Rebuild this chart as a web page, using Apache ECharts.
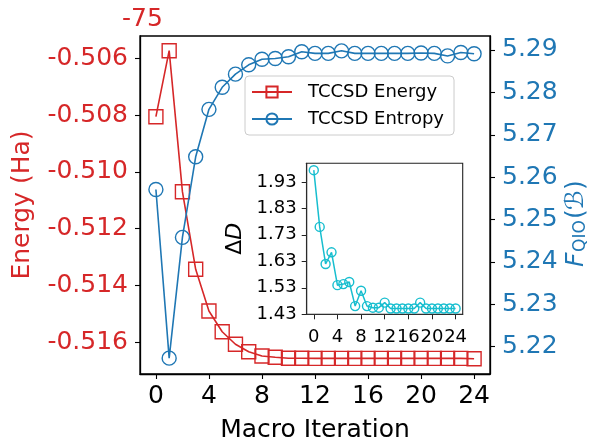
<!DOCTYPE html>
<html>
<head>
<meta charset="utf-8">
<script src="https://cdn.jsdelivr.net/npm/echarts@6/dist/echarts.min.js"></script>
<style>
  html, body { margin: 0; padding: 0; background: #fff; }
  #chart { width: 592px; height: 441px; }
</style>
</head>
<body>
<div id="chart"></div>
<script>
// 数据（能量已减去偏移 -75）
var iterations = [0, 1, 2, 3, 4, 5, 6, 7, 8, 9, 10, 11, 12, 13, 14, 15, 16, 17, 18, 19, 20, 21, 22, 23, 24];
var energy = [-0.508056, -0.505732, -0.510697, -0.513430, -0.514898, -0.515627, -0.516070, -0.516331,
	-0.516482, -0.516528, -0.516560, -0.516563, -0.516565, -0.516565, -0.516565, -0.516565, -0.516565,
	-0.516565, -0.516565, -0.516565, -0.516565, -0.516565, -0.516565, -0.516565, -0.516580];
var entropy = [5.2571, 5.2173, 5.2458, 5.2648, 5.2760, 5.2812, 5.2843, 5.2865, 5.2878, 5.2880,
	5.2884, 5.2896, 5.2892, 5.2892, 5.2898, 5.2892, 5.2892, 5.2892, 5.2892, 5.2892, 5.2893,
	5.2892, 5.2886, 5.2894, 5.2891];
var deltaD = [1.974, 1.760, 1.620, 1.664, 1.540, 1.544, 1.552, 1.461, 1.519, 1.461, 1.455, 1.455,
	1.474, 1.452, 1.452, 1.452, 1.452, 1.452, 1.474, 1.452, 1.452, 1.452, 1.452, 1.452, 1.452];

// 刻度
var xticks = [0, 4, 8, 12, 16, 20, 24];
var energyticks = [-0.516, -0.514, -0.512, -0.510, -0.508, -0.506];
var entropyticks = [5.22, 5.23, 5.24, 5.25, 5.26, 5.27, 5.28, 5.29];
var insetyticks = [1.43, 1.53, 1.63, 1.73, 1.83, 1.93];

var red = '#d62728';
var blue = '#1f77b4';
var cyan = '#17becf';
var font = 'DejaVu Sans';

var pairs = function(ys){
	return ys.map(function(y, i){ return [iterations[i], y]; });
};

var chart = echarts.init(document.getElementById('chart'));

var option = {
	animation: false,
	backgroundColor: '#fff',
	textStyle: { fontFamily: font },
	grid: [
		{ left: 140, top: 36, width: 350, height: 338, outerBoundsMode: 'none', containLabel: false,
			show: true, borderColor: '#000', borderWidth: 1.3, backgroundColor: 'transparent' },
		{ left: 306.7, top: 163.3, width: 156, height: 151, outerBoundsMode: 'none', containLabel: false,
			show: true, borderColor: '#222', borderWidth: 1.1, backgroundColor: '#fff', z: 5 }
	],
	legend: {
		orient: 'vertical',
		left: 245, top: 76,
		padding: [7, 10, 7, 6],
		itemWidth: 40, itemHeight: 14, itemGap: 9,
		backgroundColor: 'rgba(255,255,255,0.8)',
		borderColor: '#cccccc', borderWidth: 1, borderRadius: 4,
		textStyle: { fontFamily: font, fontSize: 18, color: '#000', padding: [0, 0, 0, 11] },
		data: ['TCCSD Energy', 'TCCSD Entropy']
	},
	xAxis: [
		{
			type: 'value', gridIndex: 0, min: -1.2, max: 25.2,
			name: 'Macro Iteration', nameLocation: 'middle', nameGap: 44,
			nameTextStyle: { fontFamily: font, fontSize: 25, color: '#000' },
			axisLine: { show: true, onZero: false, lineStyle: { color: '#000', width: 1.3 } },
			axisTick: { show: true, length: 5, lineStyle: { color: '#000', width: 1.1 }, customValues: xticks },
			axisLabel: { fontFamily: font, fontSize: 25, color: '#000', margin: 10, customValues: xticks },
			splitLine: { show: false }
		},
		{
			type: 'value', gridIndex: 1, min: -1.2, max: 25.2,
			axisLine: { show: true, onZero: false, lineStyle: { color: '#222', width: 1.1 } },
			axisTick: { show: true, length: 5, lineStyle: { color: '#222', width: 1 }, customValues: xticks },
			axisLabel: { fontFamily: font, fontSize: 18, color: '#000', margin: 14, customValues: xticks },
			splitLine: { show: false }
		}
	],
	yAxis: [
		{
			type: 'value', gridIndex: 0, position: 'left', min: -0.517116, max: -0.505215,
			name: 'Energy (Ha)', nameLocation: 'middle', nameGap: 105, nameRotate: 90,
			nameTextStyle: { fontFamily: font, fontSize: 25, color: red },
			axisLine: { show: true, onZero: false, lineStyle: { color: '#000', width: 1.3 } },
			axisTick: { show: true, length: 5, lineStyle: { color: '#000', width: 1.1 }, customValues: energyticks },
			axisLabel: { fontFamily: font, fontSize: 25, color: red, margin: 12, customValues: energyticks,
				formatter: function(v){ return v.toFixed(3); } },
			splitLine: { show: false }
		},
		{
			type: 'value', gridIndex: 0, position: 'right', min: 5.21356, max: 5.2933,
			axisLine: { show: true, onZero: false, lineStyle: { color: '#000', width: 1.3 } },
			axisTick: { show: true, length: 5, lineStyle: { color: '#000', width: 1.1 }, customValues: entropyticks },
			axisLabel: { fontFamily: font, fontSize: 25, color: blue, margin: 12, customValues: entropyticks,
				formatter: function(v){ return v.toFixed(2); } },
			splitLine: { show: false }
		},
		{
			type: 'value', gridIndex: 1, min: 1.43, max: 2.0,
			name: '{n|Δ}{d|D}', nameLocation: 'middle', nameGap: 60, nameRotate: 90,
			nameTextStyle: { fontFamily: font, fontSize: 22, color: '#000',
				rich: {
					n: { fontFamily: font, fontSize: 22, color: '#000' },
					d: { fontFamily: font, fontSize: 22, fontStyle: 'italic', color: '#000' }
				} },
			axisLine: { show: true, onZero: false, lineStyle: { color: '#222', width: 1.1 } },
			axisTick: { show: true, length: 5, lineStyle: { color: '#222', width: 1 }, customValues: insetyticks },
			axisLabel: { fontFamily: font, fontSize: 18, color: '#000', margin: 10, customValues: insetyticks,
				formatter: function(v){ return v.toFixed(2); } },
			splitLine: { show: false }
		}
	],
	graphic: [
		{
			type: 'text', left: 122, top: 7,
			style: { text: '-75', fontFamily: font, fontSize: 25, fill: red }
		},
		{
			type: 'group', x: 576, y: 267, rotation: Math.PI / 2,
			children: [
				{ type: 'text', x: 0, y: 0, style: { text: 'F', fontFamily: font, fontSize: 25, fontStyle: 'italic', fill: blue, textAlign: 'left', textVerticalAlign: 'middle' } },
				{ type: 'text', x: 15, y: 5, style: { text: 'QIO', fontFamily: font, fontSize: 17, fill: blue, textAlign: 'left', textVerticalAlign: 'middle' } },
				{ type: 'text', x: 48, y: 0, style: { text: '(', fontFamily: font, fontSize: 25, fill: blue, textAlign: 'left', textVerticalAlign: 'middle' } },
				{ type: 'text', x: 57, y: 0, style: { text: 'ℬ', fontFamily: font, fontSize: 25, fill: blue, textAlign: 'left', textVerticalAlign: 'middle' } },
				{ type: 'text', x: 77, y: 0, style: { text: ')', fontFamily: font, fontSize: 25, fill: blue, textAlign: 'left', textVerticalAlign: 'middle' } }
			]
		}
	],
	series: [
		{
			name: 'TCCSD Energy', type: 'line', xAxisIndex: 0, yAxisIndex: 0,
			data: pairs(energy), color: red,
			symbol: 'rect', symbolSize: 14, showAllSymbol: true,
			lineStyle: { color: red, width: 1.6 },
			itemStyle: { color: 'rgba(255,255,255,0)', borderColor: red, borderWidth: 1.4 },
			z: 2
		},
		{
			name: 'TCCSD Entropy', type: 'line', xAxisIndex: 0, yAxisIndex: 1,
			data: pairs(entropy), color: blue,
			symbol: 'circle', symbolSize: 14, showAllSymbol: true,
			lineStyle: { color: blue, width: 1.6 },
			itemStyle: { color: 'rgba(255,255,255,0)', borderColor: blue, borderWidth: 1.4 },
			z: 3
		},
		{
			name: 'deltaD', type: 'line', xAxisIndex: 1, yAxisIndex: 2,
			data: pairs(deltaD), color: cyan,
			symbol: 'circle', symbolSize: 9, showAllSymbol: true,
			lineStyle: { color: cyan, width: 1.5 },
			itemStyle: { color: 'rgba(255,255,255,0)', borderColor: cyan, borderWidth: 1.4 },
			z: 10
		}
	]
};

chart.setOption(option);
</script>
</body>
</html>
